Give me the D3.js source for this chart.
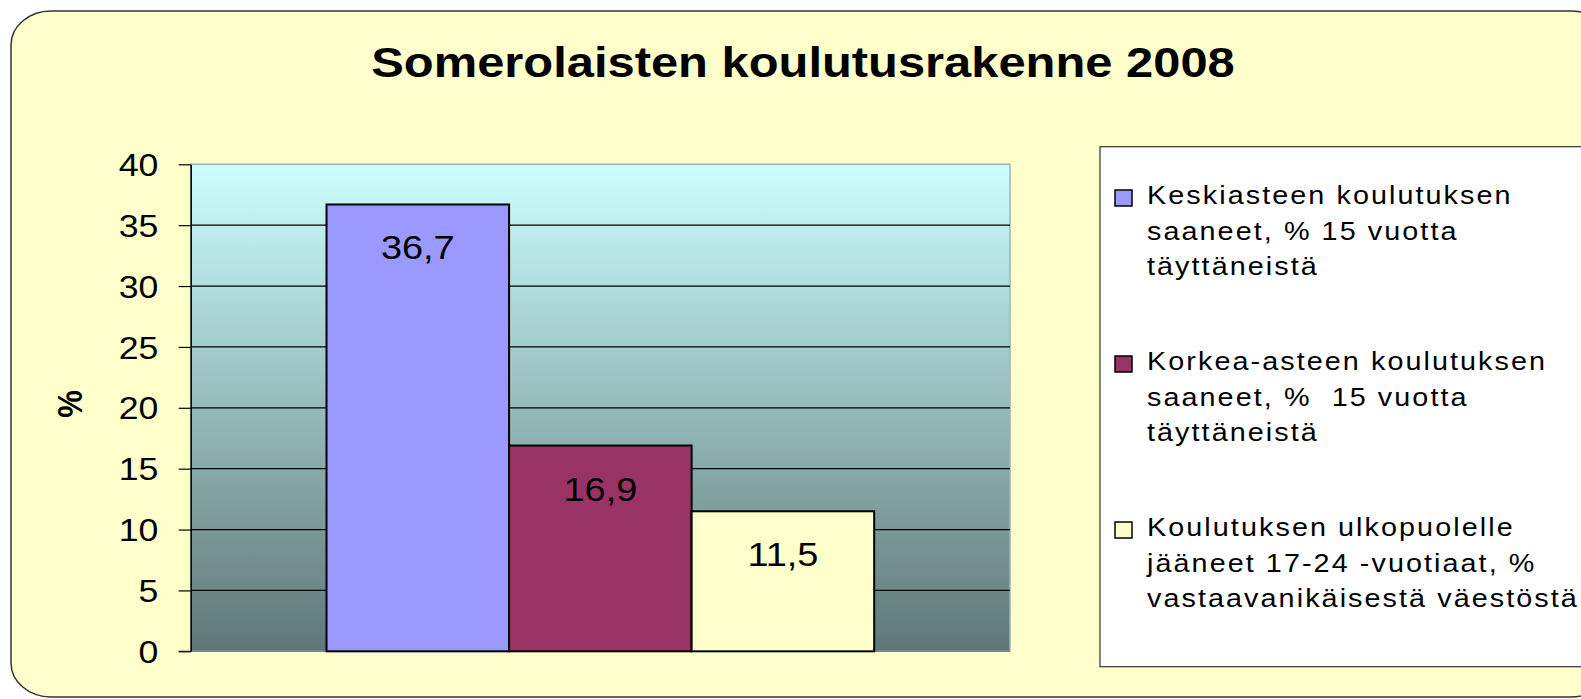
<!DOCTYPE html>
<html>
<head>
<meta charset="utf-8">
<script src="https://cdn.jsdelivr.net/npm/d3@7"></script>
<style>
  body { margin: 0; background: #fff; overflow: hidden; }
  text { font-family: "Liberation Sans", Arial, sans-serif; }
</style>
</head>
<body>
<div id="chart"></div>
<script>
// chart data
var title = "Somerolaisten koulutusrakenne 2008"
var yLabel = "%"
var series = ["Keskiasteen", "Korkea-asteen", "Ulkopuolella"]
var values = [36.7, 16.9, 11.5]
var yTicks = [0, 5, 10, 15, 20, 25, 30, 35, 40]
var legendLines = [
    ["Keskiasteen koulutuksen", "saaneet, % 15 vuotta", "täyttäneistä"],
    ["Korkea-asteen koulutuksen", "saaneet, %  15 vuotta", "täyttäneistä"],
    ["Koulutuksen ulkopuolelle", "jääneet 17-24 -vuotiaat, %", "vastaavanikäisestä väestöstä"]
]

var color = d3.scaleOrdinal()
    .domain(series)
    .range(['#9999ff', '#993366', '#ffffcc'])

// the original picture is a bit wider than tall, so text gets stretched
var sx = 1.15

var width = 1581
var height = 699
var plot = { left: 190.7, right: 1010, top: 164.3, bottom: 651.3 }

var svg = d3.select('#chart')
    .append('svg')
    .attr('width', width)
    .attr('height', height)

// gradient for the plot area
var grad = svg.append('defs').append('linearGradient')
    .attr('id', 'plotbg')
    .attr('x1', 0).attr('y1', 0).attr('x2', 0).attr('y2', 1)
grad.append('stop').attr('offset', '0%').attr('stop-color', '#ccffff')
grad.append('stop').attr('offset', '100%').attr('stop-color', '#5f7676')

// outer rounded frame
svg.append('rect')
    .attr('x', 11).attr('y', 11)
    .attr('width', 1600).attr('height', 686)
    .attr('rx', 40).attr('ry', 34)
    .style('fill', '#ffffcc')
    .style('stroke', '#333')
    .style('stroke-width', 1.5)

// title
svg.append('text')
    .attr('transform', 'translate(803,77) scale(' + sx + ',1)')
    .attr('text-anchor', 'middle')
    .style('font-size', '42.5px')
    .style('font-weight', 'bold')
    .text(title)

// scales
var y = d3.scaleLinear()
    .domain([0, 40])
    .range([plot.bottom, plot.top])

var x = d3.scaleBand()
    .domain(series)
    .range([plot.left, plot.right])
    .paddingInner(0)
    .paddingOuter(0.744)

// plot area
svg.append('rect')
    .attr('x', plot.left).attr('y', plot.top)
    .attr('width', plot.right - plot.left)
    .attr('height', plot.bottom - plot.top)
    .style('fill', 'url(#plotbg)')
    .style('stroke', '#9ab4b4')
    .style('stroke-width', 1.5)

// gridlines
svg.selectAll('.grid')
    .data(yTicks.filter(function (d) { return d > 0 && d < 40 }))
    .enter()
    .append('line')
    .attr('class', 'grid')
    .attr('x1', plot.left).attr('x2', plot.right)
    .attr('y1', function (d) { return y(d) })
    .attr('y2', function (d) { return y(d) })
    .style('stroke', '#000')
    .style('stroke-width', 1.2)

// bottom category line
svg.append('line')
    .attr('x1', plot.left - 12).attr('x2', plot.right)
    .attr('y1', y(0)).attr('y2', y(0))
    .style('stroke', '#808080')
    .style('stroke-width', 1.5)

// y axis
var yAxis = svg.append('g')
    .attr('transform', 'translate(' + plot.left + ',0)')
    .call(d3.axisLeft(y).tickValues(yTicks).tickSize(12).tickSizeOuter(0))
yAxis.select('.domain').style('stroke', '#000').style('stroke-width', 1.5)
yAxis.selectAll('.tick line').style('stroke', '#000').style('stroke-width', 1.2)
yAxis.selectAll('.tick text')
    .attr('x', -32.4 / sx)
    .attr('dy', '0.36em')
    .attr('transform', 'scale(' + sx + ',1)')
    .style('font-family', '"Liberation Sans", Arial, sans-serif')
    .style('font-size', '31px')
    .style('fill', '#000')

// y axis title
svg.append('text')
    .attr('transform', 'translate(70,404) scale(' + sx + ',1) rotate(-90)')
    .attr('text-anchor', 'middle')
    .attr('dy', '0.35em')
    .style('font-size', '31px')
    .style('font-weight', 'bold')
    .text(yLabel)

// bars
var fmt = function (d) { return d3.format('.1f')(d).replace('.', ',') }

svg.selectAll('.bar')
    .data(values)
    .enter()
    .append('rect')
    .attr('class', 'bar')
    .attr('x', function (d, i) { return x(series[i]) })
    .attr('y', function (d) { return y(d) })
    .attr('width', x.bandwidth())
    .attr('height', function (d) { return y(0) - y(d) })
    .style('fill', function (d, i) { return color(series[i]) })
    .style('stroke', '#000')
    .style('stroke-width', 2)

// value labels
svg.selectAll('.value')
    .data(values)
    .enter()
    .append('text')
    .attr('class', 'value')
    .attr('transform', function (d, i) {
        var cx = x(series[i]) + x.bandwidth() / 2
        return 'translate(' + cx + ',' + (y(d) + 55) + ') scale(' + sx + ',1)'
    })
    .attr('text-anchor', 'middle')
    .style('font-size', '33px')
    .text(fmt)

// legend
svg.append('rect')
    .attr('x', 1100).attr('y', 146.7)
    .attr('width', 520).attr('height', 520)
    .style('fill', '#fff')
    .style('stroke', '#333')
    .style('stroke-width', 1.2)

var legend = svg.selectAll('.legend')
    .data(series)
    .enter()
    .append('g')
    .attr('class', 'legend')
    .attr('transform', function (d, i) { return 'translate(1115,' + (190 + i * 166) + ')' })

legend.append('rect')
    .attr('width', 17).attr('height', 16)
    .style('fill', function (d) { return color(d) })
    .style('stroke', '#000')
    .style('stroke-width', 1.5)

legend.each(function (d, i) {
    var g = d3.select(this)
    legendLines[i].forEach(function (line, j) {
        g.append('text')
            .attr('transform', 'translate(32,' + (14 + j * 35.5) + ') scale(' + sx + ',1)')
            .style('font-size', '25px')
            .style('letter-spacing', '1.8px')
            .style('white-space', 'pre')
            .text(line)
    })
})
</script>
</body>
</html>
